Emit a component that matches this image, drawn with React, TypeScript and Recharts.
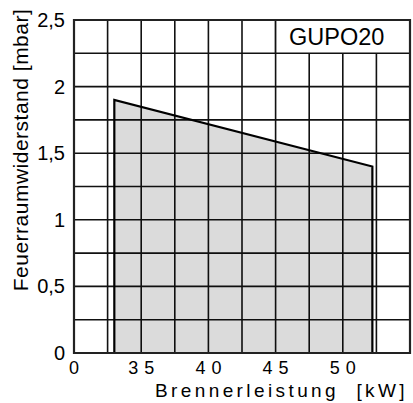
import { ComposedChart, Area, XAxis, YAxis, CartesianGrid, ReferenceArea } from "recharts";

const KW = [33, 33, 52.2, 52.2];
const MBAR = [0, 1.9, 1.4, 0];

const X_GRID = [30, 32.5, 35, 37.5, 40, 42.5, 45, 47.5, 50, 52.5, 55];
const X_MAJOR = [30, 35, 40, 45, 50];
const X_LABELS = ["0", "35", "40", "45", "50"];

const Y_GRID = [0, 0.25, 0.5, 0.75, 1, 1.25, 1.5, 1.75, 2, 2.25, 2.5];
const Y_MAJOR = [0, 0.5, 1, 1.5, 2, 2.5];
const Y_LABELS = ["0", "0,5", "1", "1,5", "2", "2,5"];

const FONT = "'Liberation Sans', Arial, sans-serif";

const data = KW.map((kw, i) => ({ kw, mbar: MBAR[i] }));

function XTick({ x, y, payload }: any) {
  const i = X_MAJOR.indexOf(payload.value);
  if (i < 0) return null;
  const ls = i === 0 ? 0 : 6;
  return (
    <text x={x + ls / 2} y={y + 21} textAnchor="middle" fontSize={18} letterSpacing={ls} fontFamily={FONT} fill="#000">
      {X_LABELS[i]}
    </text>
  );
}

function YTick({ x, y, payload }: any) {
  const i = Y_MAJOR.indexOf(payload.value);
  if (i < 0) return null;
  return (
    <text x={x - 9} y={y + 7} textAnchor="end" fontSize={20} fontFamily={FONT} fill="#000">
      {Y_LABELS[i]}
    </text>
  );
}

export default function App() {
  return (
    <div style={{ position: "absolute", left: 0, top: 0, background: "#fff" }}>
      <ComposedChart width={413} height={403} data={data} margin={{ top: 20, right: 3, bottom: 0, left: 0 }}>
        <CartesianGrid stroke="#111" strokeWidth={1.6} />
        <XAxis
          dataKey="kw"
          type="number"
          domain={[30, 55]}
          ticks={X_GRID}
          interval={0}
          height={50}
          tickSize={0}
          tickMargin={0}
          axisLine={false}
          tick={<XTick />}
          label={{
            content: () => (
              <text x={408} y={397} textAnchor="end" fontSize={19} letterSpacing={3.4} fontFamily={FONT} fill="#000">
                {"Brennerleistung\u00a0\u00a0[kW]"}
              </text>
            ),
          }}
        />
        <YAxis
          type="number"
          domain={[0, 2.5]}
          ticks={Y_GRID}
          interval={0}
          width={74}
          tickSize={0}
          tickMargin={0}
          axisLine={false}
          tick={<YTick />}
          label={{
            content: () => (
              <text
                x={28}
                y={150}
                transform="rotate(-90 28 150)"
                textAnchor="middle"
                fontSize={21}
                letterSpacing={0.5}
                fontFamily={FONT}
                fill="#000"
              >
                Feuerraumwiderstand [mbar]
              </text>
            ),
          }}
        />
        <Area
          type="linear"
          dataKey="mbar"
          stroke="#000"
          strokeWidth={2.2}
          fill="#000"
          fillOpacity={0.14}
          baseValue={0}
          dot={false}
          activeDot={false}
          isAnimationActive={false}
        />
        <ReferenceArea
          x1={45}
          x2={55}
          y1={2.25}
          y2={2.5}
          fill="#fff"
          fillOpacity={1}
          stroke="#111"
          strokeWidth={1.6}
          label={{
            content: () => (
              <text x={289} y={45} fontSize={23.5} fontFamily={FONT} fill="#000">
                GUPO20
              </text>
            ),
          }}
        />
        <ReferenceArea x1={30} x2={55} y1={0} y2={2.5} fill="none" stroke="#222" strokeWidth={2.2} />
      </ComposedChart>
    </div>
  );
}
